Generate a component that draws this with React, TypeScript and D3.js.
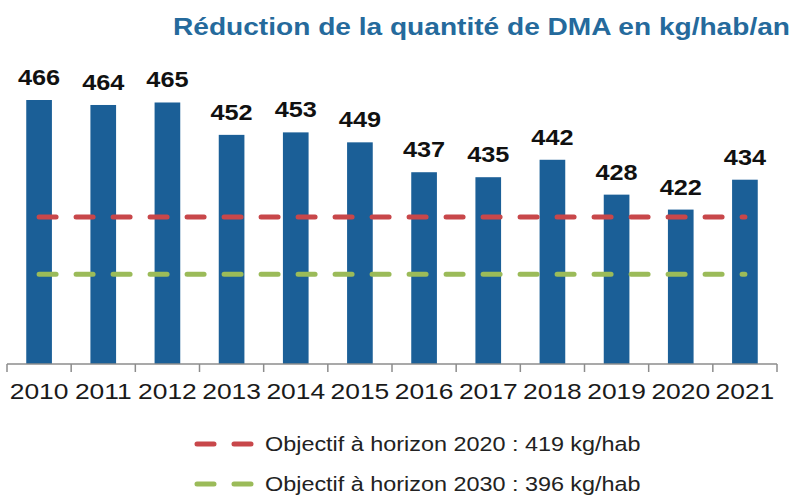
import { scaleBand, scaleLinear } from "d3";

const years = ["2010", "2011", "2012", "2013", "2014", "2015", "2016", "2017", "2018", "2019", "2020", "2021"];
const dma = [466, 464, 465, 452, 453, 449, 437, 435, 442, 428, 422, 434];
const targetLabels = ["Objectif à horizon 2020 : 419 kg/hab", "Objectif à horizon 2030 : 396 kg/hab"];
const targetValues = [419, 396];
const targetColors = ["#c8474a", "#9bbb59"];

const width = 796;
const height = 495;
const font = '"Liberation Sans", Arial, Helvetica, sans-serif';
const barColor = "#1b5f97";

export default function App() {
  const x = scaleBand<string>()
    .domain(years)
    .range([7, 777])
    .paddingInner(0.6)
    .paddingOuter(0.3);

  const y = scaleLinear().domain([360, 466]).range([364, 100]);

  const step = x.step();
  const first = (x(years[0]) ?? 0) + x.bandwidth() / 2;
  const last = (x(years[years.length - 1]) ?? 0) + x.bandwidth() / 2;
  const axisStart = (x(years[0]) ?? 0) - step * 0.3;
  const tickXs = years.map((_, i) => axisStart + i * step).concat(axisStart + years.length * step);

  return (
    <svg
      width={width}
      height={height}
      fontFamily={font}
      style={{ position: "absolute", left: 0, top: 0, background: "#fff" }}
    >
      <text
        x={790}
        y={35}
        textAnchor="end"
        fontSize={23.5}
        fontWeight={700}
        fill="#256a9c"
        textLength={617}
        lengthAdjust="spacingAndGlyphs"
      >
        Réduction de la quantité de DMA en kg/hab/an
      </text>

      {years.map((yr, i) => {
        const cx = (x(yr) ?? 0) + x.bandwidth() / 2;
        return (
          <g key={yr}>
            <rect
              x={x(yr)}
              y={y(dma[i])}
              width={x.bandwidth()}
              height={y(360) - y(dma[i])}
              fill={barColor}
            />
            <text
              transform={`translate(${cx}, ${y(dma[i]) - 15}) scale(1.15, 1)`}
              textAnchor="middle"
              fontSize={22}
              fontWeight={700}
              fill="#111"
            >
              {dma[i]}
            </text>
            <text
              transform={`translate(${cx}, 399) scale(1.2, 1)`}
              textAnchor="middle"
              fontSize={22}
              fill="#1a1a1a"
            >
              {yr}
            </text>
          </g>
        );
      })}

      {targetValues.map((v, i) => (
        <line
          key={v}
          x1={first}
          x2={last}
          y1={y(v)}
          y2={y(v)}
          stroke={targetColors[i]}
          strokeWidth={5}
          strokeLinecap="round"
          strokeDasharray="17 20"
        />
      ))}

      <line x1={tickXs[0]} x2={tickXs[tickXs.length - 1]} y1={364} y2={364} stroke="#8c8c8c" strokeWidth={1.5} />
      {tickXs.map((tx, i) => (
        <line key={i} x1={tx} x2={tx} y1={364} y2={372} stroke="#8c8c8c" strokeWidth={1.5} />
      ))}

      {targetLabels.map((label, i) => {
        const ly = 444 + i * 40;
        return (
          <g key={label}>
            <line
              x1={197}
              x2={251}
              y1={ly}
              y2={ly}
              stroke={targetColors[i]}
              strokeWidth={5}
              strokeLinecap="round"
              strokeDasharray="17 20"
            />
            <text
              transform={`translate(265, ${ly + 7}) scale(1.2, 1)`}
              fontSize={19.5}
              fill="#222"
            >
              {label}
            </text>
          </g>
        );
      })}
    </svg>
  );
}
